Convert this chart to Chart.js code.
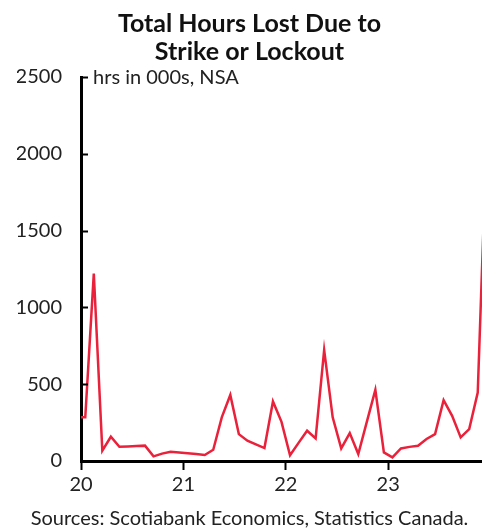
<!DOCTYPE html>
<html>
<head>
<meta charset="utf-8">
<script src="https://cdn.jsdelivr.net/npm/chart.js@4.4.1/dist/chart.umd.min.js"></script>
<style>
  html, body { margin: 0; padding: 0; background: #fff; }
  #wrap { width: 482px; height: 529px; }
</style>
</head>
<body>
<div id="wrap"><canvas id="strikeChart"></canvas></div>
<script>
// monthly, Dec 2019 .. Dec 2023 (hrs in 000s, NSA)
const months = [
  '2019-12',
  '2020-01','2020-02','2020-03','2020-04','2020-05','2020-06','2020-07','2020-08','2020-09','2020-10','2020-11','2020-12',
  '2021-01','2021-02','2021-03','2021-04','2021-05','2021-06','2021-07','2021-08','2021-09','2021-10','2021-11','2021-12',
  '2022-01','2022-02','2022-03','2022-04','2022-05','2022-06','2022-07','2022-08','2022-09','2022-10','2022-11','2022-12',
  '2023-01','2023-02','2023-03','2023-04','2023-05','2023-06','2023-07','2023-08','2023-09','2023-10','2023-11','2023-12'
];
const hoursLost = [
  285,
  285, 1220, 67, 158, 93, 95, 98, 100, 30, 48, 60, 55,
  50, 45, 39, 73, 284, 430, 175, 132, 108, 84, 388, 255,
  37, 118, 197, 147, 723, 284, 82, 182, 45, 255, 463, 56,
  24, 82, 92, 99, 143, 175, 396, 294, 154, 208, 446, 2050
];
const yearLabels = ['20', '21', '22', '23'];
const yTicks = [0, 500, 1000, 1500, 2000, 2500];

const titleLines = ['Total Hours Lost Due to', 'Strike or Lockout'];
const unitNote = 'hrs in 000s, NSA';
const sourceNote = 'Sources: Scotiabank Economics, Statistics Canada.';

const FONT = 'Lato, "Noto Sans", sans-serif';

// points sit mid-month, year ticks at Jan 1
const points = hoursLost.map((v, i) => ({ x: i - 0.5, y: v }));

const extras = {
  id: 'extras',
  afterDraw(chart) {
    const { ctx, chartArea } = chart;
    const y = chart.scales.y;
    ctx.save();
    // inward y ticks
    ctx.strokeStyle = '#000';
    ctx.lineWidth = 2;
    yTicks.forEach(v => {
      const py = Math.round(y.getPixelForValue(v)) + 0.5;
      ctx.beginPath();
      ctx.moveTo(chartArea.left, py);
      ctx.lineTo(chartArea.left + 7, py);
      ctx.stroke();
    });
    // unit note in the plot corner
    ctx.fillStyle = '#222';
    ctx.font = '20px ' + FONT;
    ctx.textBaseline = 'middle';
    ctx.fillText(unitNote, chartArea.left + 12, y.getPixelForValue(2500) + 1);
    ctx.restore();
  }
};

new Chart(document.getElementById('strikeChart').getContext('2d'), {
  type: 'line',
  data: {
    labels: months,
    datasets: [{
      data: points,
      borderColor: '#e9213a',
      borderWidth: 2.5,
      pointRadius: 0,
      tension: 0,
      fill: false
    }]
  },
  options: {
    responsive: true,
    maintainAspectRatio: false,
    animation: false,
    layout: { padding: { left: 17, right: 0, top: 0, bottom: 0 } },
    plugins: {
      legend: { display: false },
      tooltip: { enabled: false },
      title: {
        display: true,
        text: titleLines,
        color: '#111',
        font: { family: FONT, size: 25, weight: 'bold', lineHeight: 1.12 },
        padding: { top: 10, bottom: 11 }
      },
      subtitle: {
        display: true,
        position: 'bottom',
        text: sourceNote,
        color: '#222',
        font: { family: FONT, size: 20, lineHeight: 1.0 },
        padding: { top: 9, bottom: 0 }
      }
    },
    scales: {
      x: {
        type: 'linear',
        min: 0,
        max: 47,
        grid: { drawOnChartArea: false, drawTicks: true, tickLength: 9, tickColor: '#000', tickWidth: 2 },
        border: { display: true, color: '#000', width: 3 },
        ticks: {
          stepSize: 12,
          includeBounds: false,
          autoSkip: false,
          maxRotation: 0,
          color: '#222',
          font: { family: FONT, size: 20 },
          padding: 3,
          callback: (v) => yearLabels[v / 12] ?? ''
        }
      },
      y: {
        min: 0,
        max: 2500,
        afterFit: (s) => { s.width = 64; },
        afterBuildTicks: (s) => { s.ticks = yTicks.map(v => ({ value: v })); },
        grid: { drawOnChartArea: false, drawTicks: false },
        border: { display: true, color: '#000', width: 3 },
        ticks: {
          color: '#222',
          font: { family: FONT, size: 20 },
          padding: 19,
          callback: (v) => String(v)
        }
      }
    }
  },
  plugins: [extras]
});
</script>
</body>
</html>
